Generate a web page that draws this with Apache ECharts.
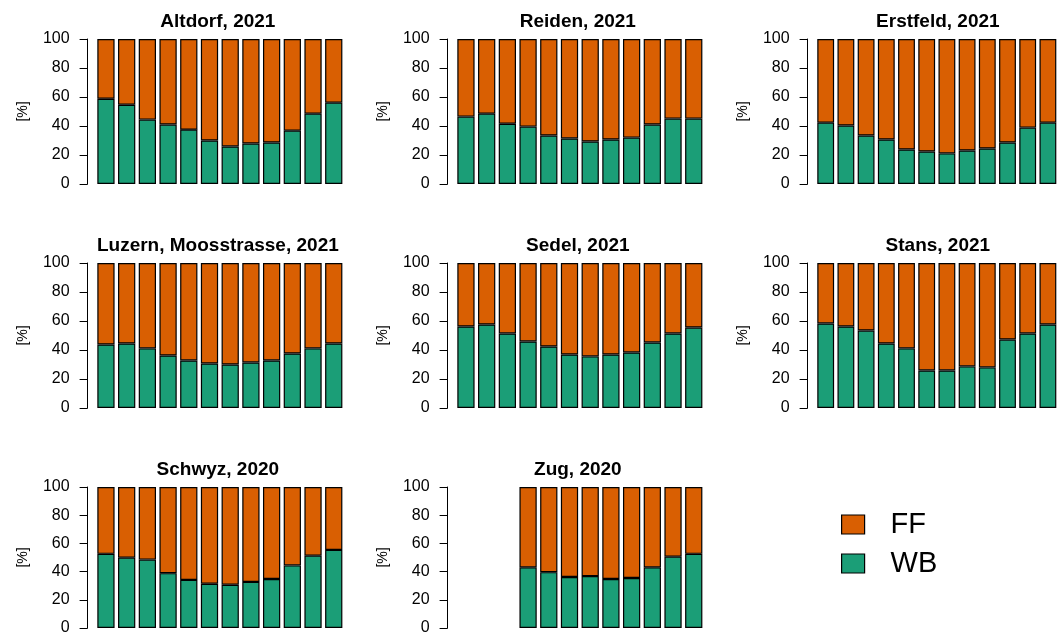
<!doctype html>
<html>
<head>
<meta charset="utf-8">
<title>WB / FF</title>
<style>
  html, body { margin: 0; padding: 0; background: #fff; }
  #chart { width: 1058px; height: 636px; }
</style>
</head>
<body>
<div id="chart"></div>
<script src="https://cdn.jsdelivr.net/npm/echarts@6/dist/echarts.min.js"></script>
<script>
// Monate (Kategorien)
var months = ['1', '2', '3', '4', '5', '6', '7', '8', '9', '10', '11', '12'];
var yTicks = [0, 20, 40, 60, 80, 100];

var stations = ['Altdorf, 2021', 'Reiden, 2021', 'Erstfeld, 2021',
	'Luzern, Moosstrasse, 2021', 'Sedel, 2021', 'Stans, 2021',
	'Schwyz, 2020', 'Zug, 2020'];

// Anteil WB [%]
var wbAltdorf = [58.8, 54.7, 44.4, 41.0, 37.5, 30.0, 25.9, 27.9, 28.6, 36.8, 48.5, 56.1];
var wbReiden = [46.5, 48.5, 41.6, 39.6, 33.4, 31.4, 29.3, 30.7, 32.0, 41.0, 45.1, 45.1];
var wbErstfeld = [42.3, 40.3, 33.4, 30.7, 23.8, 22.4, 21.1, 23.1, 24.5, 28.6, 38.9, 42.3];
var wbLuzern = [43.8, 44.5, 41.1, 36.2, 32.8, 30.7, 30.0, 31.4, 32.8, 37.6, 41.1, 44.5];
var wbSedel = [56.2, 57.6, 51.4, 45.9, 42.4, 36.9, 35.6, 36.9, 38.3, 45.2, 51.4, 55.5];
var wbStans = [58.3, 56.2, 53.4, 44.5, 41.1, 25.9, 25.9, 28.7, 28.0, 47.2, 51.4, 57.6];
var wbSchwyz = [52.6, 49.9, 48.5, 38.9, 34.1, 31.4, 30.7, 32.7, 34.8, 44.4, 51.3, 55.4];
var wbZug = ['-', '-', '-', 43.0, 39.6, 36.2, 36.8, 34.8, 35.5, 43.0, 50.6, 52.6];

// Anteil FF [%]
var ffAltdorf = [41.2, 45.3, 55.6, 59.0, 62.5, 70.0, 74.1, 72.1, 71.4, 63.2, 51.5, 43.9];
var ffReiden = [53.5, 51.5, 58.4, 60.4, 66.6, 68.6, 70.7, 69.3, 68.0, 59.0, 54.9, 54.9];
var ffErstfeld = [57.7, 59.7, 66.6, 69.3, 76.2, 77.6, 78.9, 76.9, 75.5, 71.4, 61.1, 57.7];
var ffLuzern = [56.2, 55.5, 58.9, 63.8, 67.2, 69.3, 70.0, 68.6, 67.2, 62.4, 58.9, 55.5];
var ffSedel = [43.8, 42.4, 48.6, 54.1, 57.6, 63.1, 64.4, 63.1, 61.7, 54.8, 48.6, 44.5];
var ffStans = [41.7, 43.8, 46.6, 55.5, 58.9, 74.1, 74.1, 71.3, 72.0, 52.8, 48.6, 42.4];
var ffSchwyz = [47.4, 50.1, 51.5, 61.1, 65.9, 68.6, 69.3, 67.3, 65.2, 55.6, 48.7, 44.6];
var ffZug = ['-', '-', '-', 57.0, 60.4, 63.8, 63.2, 65.2, 64.5, 57.0, 49.4, 47.4];

var wbAll = [wbAltdorf, wbReiden, wbErstfeld, wbLuzern, wbSedel, wbStans, wbSchwyz, wbZug];
var ffAll = [ffAltdorf, ffReiden, ffErstfeld, ffLuzern, ffSedel, ffStans, ffSchwyz, ffZug];

var colWB = '#1b9e77';
var colFF = '#d95f02';
var fontName = '"Liberation Sans", Arial, sans-serif';

// Panel-Raster (3 Spalten)
var colLeft = [95.6, 455.6, 815.6];
var rowTop = [39, 263, 487];
var plotW = 248.5;
var plotH = 145;

var grids = [], xAxes = [], yAxes = [], series = [], titles = [];

for (var i = 0; i < stations.length; i++) {
	var c = i % 3, r = Math.floor(i / 3);
	grids.push({ left: colLeft[c], top: rowTop[r], width: plotW, height: plotH });
	xAxes.push({
		type: 'category', gridIndex: i, data: months,
		axisLine: { show: false }, axisTick: { show: false }, axisLabel: { show: false }
	});
	yAxes.push({
		type: 'value', gridIndex: i, min: yTicks[0], max: yTicks[yTicks.length - 1], interval: 20,
		offset: 8,
		name: '[%]', nameLocation: 'middle', nameGap: 57,
		nameTextStyle: { color: '#000', fontSize: 14, fontFamily: fontName },
		axisLine: { show: true, lineStyle: { color: '#000', width: 1 } },
		axisTick: { show: true, length: 8, lineStyle: { color: '#000' } },
		axisLabel: { color: '#000', fontSize: 16, margin: 18, fontFamily: fontName },
		splitLine: { show: false }
	});
	series.push({
		name: 'WB', type: 'bar', stack: 's' + i, xAxisIndex: i, yAxisIndex: i,
		data: wbAll[i], barCategoryGap: '16.67%',
		itemStyle: { color: colWB, borderColor: '#000', borderWidth: 1.2 }
	});
	series.push({
		name: 'FF', type: 'bar', stack: 's' + i, xAxisIndex: i, yAxisIndex: i,
		data: ffAll[i], barCategoryGap: '16.67%',
		itemStyle: { color: colFF, borderColor: '#000', borderWidth: 1.2 }
	});
	titles.push({
		text: stations[i],
		left: colLeft[c] + plotW / 2 - 7, top: rowTop[r] - 32,
		textAlign: 'center',
		textStyle: { color: '#000', fontSize: 19, fontWeight: 'bold', fontFamily: fontName }
	});
}

var chart = echarts.init(document.getElementById('chart'));
chart.setOption({
	animation: false,
	backgroundColor: '#fff',
	title: titles,
	legend: {
		data: ['FF', 'WB'],
		orient: 'vertical',
		left: 836, top: 505,
		itemWidth: 23, itemHeight: 19, itemGap: 10,
		icon: 'rect',
		itemStyle: { borderColor: '#000', borderWidth: 1.2 },
		textStyle: { color: '#000', fontSize: 29, lineHeight: 19, fontFamily: fontName, padding: [0, 0, 0, 21] }
	},
	grid: grids,
	xAxis: xAxes,
	yAxis: yAxes,
	series: series
});
</script>
</body>
</html>
